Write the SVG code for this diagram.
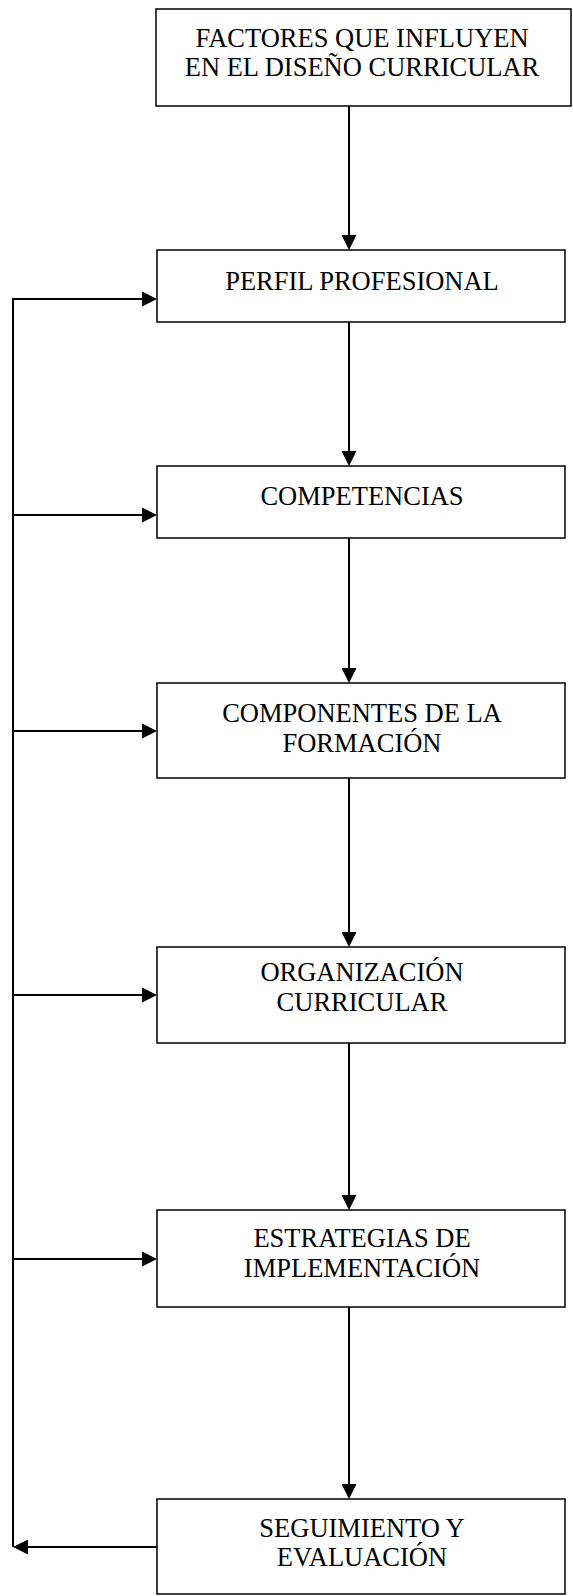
<svg xmlns="http://www.w3.org/2000/svg" width="573" height="1596" viewBox="0 0 573 1596">
<style>
.box{fill:#fff;stroke:#000;stroke-width:1.5}
.lbl{font-family:"Liberation Serif","Times New Roman",serif;font-size:26.5px;fill:#000;text-anchor:middle}
.con{fill:none;stroke:#000;stroke-width:2}
</style>
<defs>
<marker id="ah" viewBox="0 0 15 15" refX="0" refY="7.5" markerWidth="15" markerHeight="15" markerUnits="userSpaceOnUse" orient="auto">
<path d="M0,0 L15,7.5 L0,15 Z" fill="#000"/>
</marker>
</defs>
<rect width="573" height="1596" fill="#fff"/>
<g id="connectors">
<line class="con" x1="349" y1="106" x2="349" y2="235" marker-end="url(#ah)"/>
<line class="con" x1="349" y1="322" x2="349" y2="451" marker-end="url(#ah)"/>
<line class="con" x1="349" y1="538" x2="349" y2="668" marker-end="url(#ah)"/>
<line class="con" x1="349" y1="778" x2="349" y2="932" marker-end="url(#ah)"/>
<line class="con" x1="349" y1="1043" x2="349" y2="1195" marker-end="url(#ah)"/>
<line class="con" x1="349" y1="1307" x2="349" y2="1484" marker-end="url(#ah)"/>
<line class="con" x1="13" y1="299" x2="13" y2="1547"/>
<line class="con" x1="12" y1="299" x2="142" y2="299" marker-end="url(#ah)"/>
<line class="con" x1="12" y1="515" x2="142" y2="515" marker-end="url(#ah)"/>
<line class="con" x1="12" y1="731" x2="142" y2="731" marker-end="url(#ah)"/>
<line class="con" x1="12" y1="995" x2="142" y2="995" marker-end="url(#ah)"/>
<line class="con" x1="12" y1="1259" x2="142" y2="1259" marker-end="url(#ah)"/>
<line class="con" x1="157" y1="1547" x2="28" y2="1547" marker-end="url(#ah)"/>
</g>
<g id="factores">
<rect class="box" x="156" y="9" width="415" height="97"/>
<text class="lbl" x="362" y="47">FACTORES QUE INFLUYEN</text>
<text class="lbl" x="362" y="76">EN EL DISEÑO CURRICULAR</text>
</g>
<g id="perfil">
<rect class="box" x="157" y="250" width="408" height="72"/>
<text class="lbl" x="362" y="290">PERFIL PROFESIONAL</text>
</g>
<g id="competencias">
<rect class="box" x="157" y="466" width="408" height="72"/>
<text class="lbl" x="362" y="505">COMPETENCIAS</text>
</g>
<g id="componentes">
<rect class="box" x="157" y="683" width="408" height="95"/>
<text class="lbl" x="362" y="722">COMPONENTES DE LA</text>
<text class="lbl" x="362" y="752">FORMACIÓN</text>
</g>
<g id="organizacion">
<rect class="box" x="157" y="947" width="408" height="96"/>
<text class="lbl" x="362" y="981">ORGANIZACIÓN</text>
<text class="lbl" x="362" y="1011">CURRICULAR</text>
</g>
<g id="estrategias">
<rect class="box" x="157" y="1210" width="408" height="97"/>
<text class="lbl" x="362" y="1247">ESTRATEGIAS DE</text>
<text class="lbl" x="362" y="1277">IMPLEMENTACIÓN</text>
</g>
<g id="seguimiento">
<rect class="box" x="157" y="1499" width="408" height="95"/>
<text class="lbl" x="362" y="1537">SEGUIMIENTO Y</text>
<text class="lbl" x="362" y="1566">EVALUACIÓN</text>
</g>
</svg>
